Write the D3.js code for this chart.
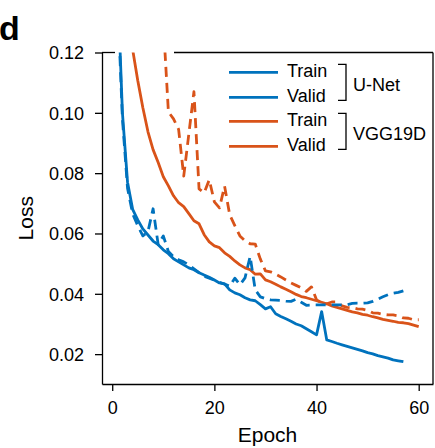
<!DOCTYPE html>
<html>
<head>
<meta charset="utf-8">
<script src="https://cdn.jsdelivr.net/npm/d3@7"></script>
<style>
  body { margin: 0; background: #fff; }
  svg { display: block; font-family: "Liberation Sans", Arial, sans-serif; }
</style>
</head>
<body>
<svg id="chart" width="435" height="448"></svg>
<script>
// Loss per epoch (epoch = index + 1)
const unetTrain = [0.145, 0.100, 0.077, 0.068, 0.0645, 0.0615, 0.0595, 0.0575, 0.0563, 0.0546,
    0.0533, 0.0516, 0.0506, 0.0496, 0.0486, 0.048, 0.047, 0.0462, 0.0455, 0.0446,
    0.0436, 0.0433, 0.0413, 0.0403, 0.0397, 0.0387, 0.038, 0.0377, 0.0364, 0.035,
    0.0357, 0.0334, 0.0325, 0.0317, 0.0309, 0.03, 0.0294, 0.0284, 0.0274, 0.0264,
    0.0341, 0.0247, 0.0242, 0.0236, 0.0231, 0.0226, 0.0221, 0.0216, 0.0211, 0.0205,
    0.0201, 0.0195, 0.0191, 0.0187, 0.0181, 0.0178, 0.0175];
const unetValid = [0.14, 0.098, 0.075, 0.0665, 0.0626, 0.0592, 0.0606, 0.0682, 0.0563, 0.0592,
    0.054, 0.0523, 0.0513, 0.0506, 0.0496, 0.0483, 0.047, 0.0458, 0.0452, 0.0445,
    0.0438, 0.0432, 0.0425, 0.0452, 0.043, 0.0453, 0.0524, 0.0413, 0.039, 0.0384,
    0.038, 0.0379, 0.0378, 0.0376, 0.0375, 0.0382, 0.0372, 0.0362, 0.0363, 0.0363,
    0.0363, 0.0363, 0.0363, 0.0363, 0.0363, 0.0364, 0.0368, 0.0369, 0.0369, 0.037,
    0.0375, 0.0382, 0.039, 0.0397, 0.0402, 0.0405, 0.041];
const vggTrain = [0.20, 0.16, 0.135, 0.121, 0.1107, 0.1017, 0.0937, 0.0878, 0.0835, 0.0788,
    0.0758, 0.0725, 0.0702, 0.0689, 0.0666, 0.0642, 0.0632, 0.0596, 0.0572, 0.0559,
    0.0553, 0.0536, 0.0524, 0.0509, 0.0496, 0.0486, 0.048, 0.0465, 0.0466, 0.0446,
    0.044, 0.0432, 0.0423, 0.0415, 0.0407, 0.0398, 0.0391, 0.0387, 0.0382, 0.0377,
    0.0372, 0.0367, 0.036, 0.0355, 0.035, 0.0345, 0.034, 0.0337, 0.0332, 0.0329,
    0.0324, 0.032, 0.0315, 0.0312, 0.0309, 0.0305, 0.0304, 0.0301, 0.0296, 0.0291];
const vggValid = [0.30, 0.26, 0.23, 0.21, 0.19, 0.175, 0.16, 0.15, 0.14, 0.13,
    0.1003, 0.098, 0.0945, 0.079, 0.093, 0.107, 0.0748, 0.0735, 0.0778, 0.0705,
    0.0685, 0.0757, 0.0662, 0.0626, 0.0592, 0.0576, 0.0566, 0.0565, 0.0515, 0.0476,
    0.0473, 0.0465, 0.0456, 0.0446, 0.0436, 0.0428, 0.042, 0.0408, 0.0423, 0.038,
    0.037, 0.0367, 0.0373, 0.0373, 0.036, 0.0355, 0.0354, 0.035, 0.0349, 0.0345,
    0.0337, 0.0336, 0.0332, 0.033, 0.033, 0.0327, 0.032, 0.0319, 0.0314, 0.0314];

const xTicks = [0, 20, 40, 60];
const yTicks = [0.02, 0.04, 0.06, 0.08, 0.10, 0.12];

const legendLabels = ["Train", "Valid", "Train", "Valid"];
const legendModels = ["U-Net", "VGG19D"];

const BLUE = "#0072BD";
const ORANGE = "#D95319";

class LossChart {

    constructor(svg_id) {
        this.svg = d3.select("#" + svg_id);
        this.left = 102;
        this.right = 433;
        this.top = 52.5;
        this.bottom = 384;

        this.x = d3.scaleLinear().domain([-2, 62.8]).range([this.left, this.right]);
        this.y = d3.scaleLinear().domain([0.0101, 0.12]).range([this.bottom, this.top]);
    }

    render() {
        let svg = this.svg;
        let x = this.x, y = this.y;

        svg.append("clipPath").attr("id", "plotclip")
            .append("rect")
            .attr("x", this.left)
            .attr("y", this.top)
            .attr("width", this.right - this.left)
            .attr("height", this.bottom - this.top);

        let series = [
            { values: vggValid, color: ORANGE, dash: "10,6" },
            { values: vggTrain, color: ORANGE, dash: null },
            { values: unetValid, color: BLUE, dash: "10,6" },
            { values: unetTrain, color: BLUE, dash: null }
        ];

        let line = d3.line()
            .x((d, i) => x(i + 1))
            .y(d => y(d));

        svg.append("g").attr("clip-path", "url(#plotclip)")
            .selectAll("path").data(series).join("path")
            .attr("d", d => line(d.values))
            .style("fill", "none")
            .style("stroke", d => d.color)
            .style("stroke-width", 2.8)
            .style("stroke-linejoin", "round")
            .style("stroke-dasharray", d => d.dash);

        // Axes
        let yAxis = d3.axisLeft(y).tickValues(yTicks).tickFormat(d3.format(".2f"))
            .tickSize(7).tickSizeOuter(0).tickPadding(11);
        let xAxis = d3.axisBottom(x).tickValues(xTicks)
            .tickSize(7).tickSizeOuter(0).tickPadding(10);

        let gy = svg.append("g").attr("transform", "translate(" + this.left + ",0)").call(yAxis);
        let gx = svg.append("g").attr("transform", "translate(0," + this.bottom + ")").call(xAxis);

        [gx, gy].forEach(g => {
            g.selectAll("path, line").style("stroke", "#000").style("stroke-width", 1.3);
            g.selectAll("text").style("font-size", "18px").style("fill", "#000")
                .style("font-family", "'Liberation Sans', Arial, sans-serif");
        });
        gy.selectAll("text").attr("dy", "0.36em");
        gx.selectAll("text").attr("dy", "0.72em");

        // Box: right edge and top edge (top has a gap)
        svg.append("line")
            .attr("x1", this.right).attr("x2", this.right)
            .attr("y1", this.top).attr("y2", this.bottom)
            .style("stroke", "#000").style("stroke-width", 1.3);
        svg.append("line")
            .attr("x1", this.left).attr("x2", 115)
            .attr("y1", this.top).attr("y2", this.top)
            .style("stroke", "#000").style("stroke-width", 1.3);
        svg.append("line")
            .attr("x1", 174).attr("x2", this.right)
            .attr("y1", this.top).attr("y2", this.top)
            .style("stroke", "#000").style("stroke-width", 1.3);

        // Axis titles
        svg.append("text")
            .attr("x", (this.left + this.right) / 2)
            .attr("y", 442)
            .attr("text-anchor", "middle")
            .style("font-size", "21px")
            .text("Epoch");

        svg.append("text")
            .attr("transform", "translate(33," + ((this.top + this.bottom) / 2) + ") rotate(-90)")
            .attr("text-anchor", "middle")
            .style("font-size", "21px")
            .text("Loss");

        // Panel letter
        svg.append("text")
            .attr("x", -1)
            .attr("y", 40)
            .style("font-size", "34px")
            .style("font-weight", "bold")
            .text("d");

        // Legend
        let rowY = [72.3, 97.3, 121.3, 146.3];
        let rowColor = [BLUE, BLUE, ORANGE, ORANGE];
        let legend = svg.append("g");

        legend.selectAll(".legline").data(legendLabels).join("line")
            .attr("class", "legline")
            .attr("x1", 229).attr("x2", 278)
            .attr("y1", (d, i) => rowY[i]).attr("y2", (d, i) => rowY[i])
            .style("stroke", (d, i) => rowColor[i])
            .style("stroke-width", 2.8);

        legend.selectAll(".leglabel").data(legendLabels).join("text")
            .attr("class", "leglabel")
            .attr("x", 287)
            .attr("y", (d, i) => rowY[i] + 4.6)
            .style("font-size", "18px")
            .text(d => d);

        // Brackets grouping Train/Valid per model
        legend.selectAll(".bracket").data(legendModels).join("path")
            .attr("class", "bracket")
            .attr("d", (d, i) => {
                let y1 = rowY[i * 2] - 8, y2 = rowY[i * 2 + 1] + 3;
                return "M338," + y1 + "H346V" + y2 + "H338";
            })
            .style("fill", "none")
            .style("stroke", "#000")
            .style("stroke-width", 1.3);

        legend.selectAll(".modellabel").data(legendModels).join("text")
            .attr("class", "modellabel")
            .attr("x", 353)
            .attr("y", (d, i) => (rowY[i * 2] + rowY[i * 2 + 1]) / 2 + 6.5)
            .style("font-size", "18px")
            .text(d => d);
    }
}

let chart = new LossChart("chart");
chart.render();
</script>
</body>
</html>
